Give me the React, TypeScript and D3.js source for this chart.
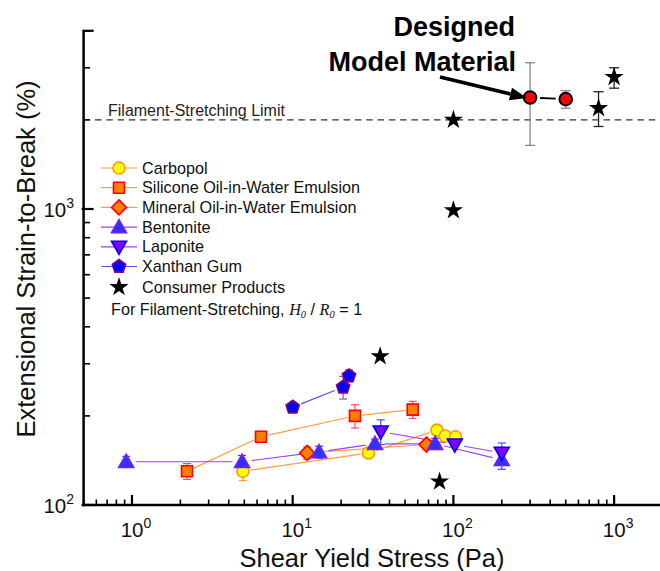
import React from 'react';
import * as d3 from 'd3';

// ---- data ----
const carbopolX = [4.9, 29.6, 79, 89, 103];
const carbopolY = [130, 150, 179, 171, 170];
const carbopolErr = [9, 0, 5, 0, 0];

const siliconeX = [2.2, 6.35, 24.4, 55.8];
const siliconeY = [130, 170, 200, 210];
const siliconeErr = [8, 0, 18, 14];

const mineralX = [12.3, 68];
const mineralY = [150, 160];
const mineralErr = [7, 6];

const bentoniteX = [0.92, 4.84, 14.6, 32.5, 77, 200];
const bentoniteY = [140, 140, 151, 161, 161, 142];
const bentoniteErr = [6, 7, 7, 6, 7, 10];

const laponiteX = [35.3, 102, 200];
const laponiteY = [177, 160, 150];
const laponiteErr = [17, 0, 12];

const xanthanX = [10, 20.6, 22.4];
const xanthanY = [214, 250, 273];
const xanthanErr = [0, 22, 13];

const consumerX = [100, 100, 800, 1000, 35, 82];
const consumerY = [2000, 990, 2190, 2790, 318, 120];
const consumerLow = [0, 0, 1900, 2560, 0, 0];
const consumerHigh = [0, 0, 2490, 3000, 0, 0];

const designedX = [300, 500];
const designedY = [2380, 2350];
const designedLow = [1640, 2190];
const designedHigh = [3120, 2510];

const filamentLimit = 2000;
const xTickMajor = [1, 10, 100, 1000];
const yTickMajor = [100, 1000];

const FONT = "'Liberation Sans', Arial, Helvetica, sans-serif";

type Shape = 'circle' | 'square' | 'diamond' | 'up' | 'down' | 'pentagon' | 'star';

function markerPath(shape: Shape, s: number): string {
  switch (shape) {
    case 'circle':
      return `M${s},0A${s},${s} 0 1,1 ${-s},0A${s},${s} 0 1,1 ${s},0Z`;
    case 'square':
      return `M${-s},${-s}H${s}V${s}H${-s}Z`;
    case 'diamond':
      return `M0,${-s}L${s},0L0,${s}L${-s},0Z`;
    case 'up':
      return `M0,${-s}L${s},${s * 0.75}L${-s},${s * 0.75}Z`;
    case 'down':
      return `M0,${s}L${s},${-s * 0.75}L${-s},${-s * 0.75}Z`;
    case 'pentagon': {
      const pts = d3.range(5).map((i) => {
        const a = -Math.PI / 2 + (i * 2 * Math.PI) / 5;
        return [s * Math.cos(a), s * Math.sin(a)];
      });
      return 'M' + pts.map((p) => p.join(',')).join('L') + 'Z';
    }
    case 'star':
      return d3.symbol(d3.symbolStar, s * s * 2.2)() as string;
  }
}

interface Series {
  name: string;
  xs: number[];
  ys: number[];
  err: number[];
  shape: Shape;
  size: number;
  fill: string;
  stroke: string;
  line: string;
  errColor: string;
}

const series: Series[] = [
  { name: 'Carbopol', xs: carbopolX, ys: carbopolY, err: carbopolErr, shape: 'circle', size: 6, fill: '#FFFF00', stroke: '#FF9900', line: '#FFA040', errColor: '#FF9933' },
  { name: 'Silicone Oil-in-Water Emulsion', xs: siliconeX, ys: siliconeY, err: siliconeErr, shape: 'square', size: 5.5, fill: '#FF8000', stroke: '#FF0000', line: '#FFA040', errColor: '#FF5050' },
  { name: 'Mineral Oil-in-Water Emulsion', xs: mineralX, ys: mineralY, err: mineralErr, shape: 'diamond', size: 7.5, fill: '#FF8000', stroke: '#FF0000', line: '#FFA040', errColor: '#FF5050' },
  { name: 'Bentonite', xs: bentoniteX, ys: bentoniteY, err: bentoniteErr, shape: 'up', size: 7.5, fill: '#3030FF', stroke: '#7020FF', line: '#A040FF', errColor: '#4040FF' },
  { name: 'Laponite', xs: laponiteX, ys: laponiteY, err: laponiteErr, shape: 'down', size: 7.5, fill: '#8000FF', stroke: '#0000FF', line: '#A040FF', errColor: '#5050FF' },
  { name: 'Xanthan Gum', xs: xanthanX, ys: xanthanY, err: xanthanErr, shape: 'pentagon', size: 7, fill: '#0000FF', stroke: '#800080', line: '#5050FF', errColor: '#A050A0' },
];

const W = 660;
const H = 571;

export default function App() {
  const x = d3.scaleLog().domain([0.5, 2000]).range([83.6, 662.5]);
  const y = d3.scaleLog().domain([100, 4000]).range([505, 30.8]);
  const axisX0 = 83.6;
  const axisY0 = 505;

  const xMinor: number[] = [];
  [0.1, 1, 10, 100, 1000].forEach((b) => {
    for (let k = 2; k <= 9; k++) {
      const v = b * k;
      if (v >= 0.5 && v <= 2000) xMinor.push(v);
    }
  });
  xMinor.push(2000);
  const yMinor: number[] = [];
  [100, 1000].forEach((b) => {
    for (let k = 2; k <= 9; k++) {
      const v = b * k;
      if (v <= 4000) yMinor.push(v);
    }
  });

  const segs = (xs: number[], ys: number[], gap: number) => {
    const out: [number, number, number, number][] = [];
    for (let i = 0; i < xs.length - 1; i++) {
      const x1 = x(xs[i]), y1 = y(ys[i]), x2 = x(xs[i + 1]), y2 = y(ys[i + 1]);
      const d = Math.hypot(x2 - x1, y2 - y1);
      if (d <= 2 * gap) continue;
      const ux = (x2 - x1) / d, uy = (y2 - y1) / d;
      out.push([x1 + ux * gap, y1 + uy * gap, x2 - ux * gap, y2 - uy * gap]);
    }
    return out;
  };

  const errBar = (cx: number, lo: number, hi: number, color: string, key: string, cap = 4, sw = 1.2) => (
    <g key={key} stroke={color} strokeWidth={sw} fill="none">
      <line x1={cx} x2={cx} y1={y(lo)} y2={y(hi)} />
      <line x1={cx - cap} x2={cx + cap} y1={y(lo)} y2={y(lo)} />
      <line x1={cx - cap} x2={cx + cap} y1={y(hi)} y2={y(hi)} />
    </g>
  );

  const legendY0 = 168;
  const legendDy = 19.7;

  const ax1 = 440, ay1 = 77, ax2 = 527, ay2 = 98;
  const alen = Math.hypot(ax2 - ax1, ay2 - ay1);
  const aux = (ax2 - ax1) / alen, auy = (ay2 - ay1) / alen;
  const headL = 17, headW = 6.5;
  const bx = ax2 - aux * headL, by = ay2 - auy * headL;

  const serif = "'Liberation Serif', 'Times New Roman', serif";

  return (
    <svg width={W} height={H} style={{ position: 'absolute', left: 0, top: 0, background: '#fff' }} fontFamily={FONT}>
      <rect width={W} height={H} fill="#fff" />

      {/* filament-stretching limit */}
      <line x1={95} x2={W} y1={y(filamentLimit)} y2={y(filamentLimit)} stroke="#333" strokeWidth={1.3} strokeDasharray="6.5,4.8" />
      <text x={108} y={y(filamentLimit) - 3.5} fontSize={16} fill="#222">Filament-Stretching Limit</text>

      {/* axes */}
      <g stroke="#000" strokeWidth={2.5} fill="none">
        <line x1={axisX0} x2={axisX0} y1={y(4000) - 1} y2={axisY0 + 1.2} />
        <line x1={axisX0 - 1.2} x2={W} y1={axisY0} y2={axisY0} />
      </g>
      <g stroke="#000" strokeWidth={1.6}>
        {xTickMajor.map((v) => (
          <line key={'xM' + v} x1={x(v)} x2={x(v)} y1={axisY0} y2={axisY0 - 10} strokeWidth={2.2} />
        ))}
        {xMinor.map((v) => (
          <line key={'xm' + v} x1={x(v)} x2={x(v)} y1={axisY0} y2={axisY0 - 5.5} />
        ))}
        {yTickMajor.map((v) => (
          <line key={'yM' + v} x1={axisX0 - 2} x2={axisX0 + 10} y1={y(v)} y2={y(v)} strokeWidth={2.2} />
        ))}
        {yMinor.map((v) => (
          <line key={'ym' + v} x1={axisX0} x2={axisX0 + 6.5} y1={y(v)} y2={y(v)} />
        ))}
        <line x1={axisX0} x2={axisX0 + 10} y1={y(4000)} y2={y(4000)} strokeWidth={2.2} />
      </g>

      {/* tick labels */}
      <g fontSize={20.5} fill="#111">
        {xTickMajor.map((v) => (
          <text key={'xl' + v} x={x(v) + 4} y={537} textAnchor="middle">
            10<tspan dy={-9} fontSize={14}>{Math.round(Math.log10(v))}</tspan>
          </text>
        ))}
        {yTickMajor.map((v) => (
          <text key={'yl' + v} x={74} y={y(v) + 8} textAnchor="end">
            10<tspan dy={-9} fontSize={14}>{Math.round(Math.log10(v))}</tspan>
          </text>
        ))}
      </g>

      {/* axis titles */}
      <text x={372} y={567} textAnchor="middle" fontSize={25.5} fill="#111">Shear Yield Stress (Pa)</text>
      <text transform={`translate(35,259) rotate(-90)`} textAnchor="middle" fontSize={25.5} fill="#111">Extensional Strain-to-Break (%)</text>

      {/* series lines */}
      {series.map((s) => (
        <g key={'ln' + s.name} stroke={s.line} strokeWidth={1.2}>
          {segs(s.xs, s.ys, s.size + 2).map((g, i) => (
            <line key={i} x1={g[0]} y1={g[1]} x2={g[2]} y2={g[3]} />
          ))}
        </g>
      ))}
      {/* error bars */}
      {series.map((s) =>
        s.xs.map((v, i) =>
          s.err[i] > 0 ? errBar(x(v), s.ys[i] - s.err[i], s.ys[i] + s.err[i], s.errColor, 'eb' + s.name + i) : null
        )
      )}
      {/* markers */}
      {series.map((s) =>
        s.xs.map((v, i) => (
          <path key={'mk' + s.name + i} d={markerPath(s.shape, s.size)} transform={`translate(${x(v)},${y(s.ys[i])})`} fill={s.fill} stroke={s.stroke} strokeWidth={1.6} />
        ))
      )}

      {/* consumer products */}
      {consumerX.map((v, i) =>
        consumerLow[i] > 0 ? errBar(x(v), consumerLow[i], consumerHigh[i], '#222', 'ceb' + i, 5, 1.3) : null
      )}
      {consumerX.map((v, i) => (
        <path key={'st' + i} d={markerPath('star', 7.2)} transform={`translate(${x(v)},${y(consumerY[i])})`} fill="#000" />
      ))}

      {/* designed model material */}
      {designedX.map((v, i) => errBar(x(v), designedLow[i], designedHigh[i], '#888', 'deb' + i, 5, 1.3))}
      {segs(designedX, designedY, 10).map((g, i) => (
        <line key={'dl' + i} x1={g[0]} y1={g[1]} x2={g[2]} y2={g[3]} stroke="#000" strokeWidth={1.8} />
      ))}
      {designedX.map((v, i) => (
        <circle key={'dm' + i} cx={x(v)} cy={y(designedY[i])} r={6.3} fill="#FF0000" stroke="#000" strokeWidth={2} />
      ))}

      {/* annotation */}
      <g fontSize={27} fontWeight="bold" textAnchor="end" fill="#000">
        <text x={515} y={36}>Designed</text>
        <text x={516} y={71}>Model Material</text>
      </g>
      <line x1={ax1} y1={ay1} x2={bx} y2={by} stroke="#000" strokeWidth={3.5} />
      <path
        d={`M${ax2},${ay2}L${bx - auy * headW},${by + aux * headW}L${bx + auy * headW},${by - aux * headW}Z`}
        fill="#000"
      />

      {/* legend */}
      {series.map((s, i) => {
        const cy = legendY0 + i * legendDy;
        return (
          <g key={'lg' + s.name}>
            <line x1={101} x2={137} y1={cy} y2={cy} stroke={s.line} strokeWidth={1.2} />
            <path d={markerPath(s.shape, s.size)} transform={`translate(119,${cy})`} fill={s.fill} stroke={s.stroke} strokeWidth={1.6} />
            <text x={142} y={cy + 5.5} fontSize={16.2} fill="#111">{s.name}</text>
          </g>
        );
      })}
      <path d={markerPath('star', 7.2)} transform={`translate(119,${legendY0 + 6 * legendDy + 1})`} fill="#000" />
      <text x={142} y={legendY0 + 6 * legendDy + 6.5} fontSize={16.2} fill="#111">Consumer Products</text>
      <text x={111} y={315} fontSize={16.2} fill="#111">
        For Filament-Stretching,{' '}
        <tspan fontFamily={serif} fontStyle="italic">H</tspan>
        <tspan fontFamily={serif} fontStyle="italic" fontSize={10.5} dy={3}>0</tspan>
        <tspan dy={-3}> / </tspan>
        <tspan fontFamily={serif} fontStyle="italic">R</tspan>
        <tspan fontFamily={serif} fontStyle="italic" fontSize={10.5} dy={3}>0</tspan>
        <tspan dy={-3}> = 1</tspan>
      </text>
    </svg>
  );
}
